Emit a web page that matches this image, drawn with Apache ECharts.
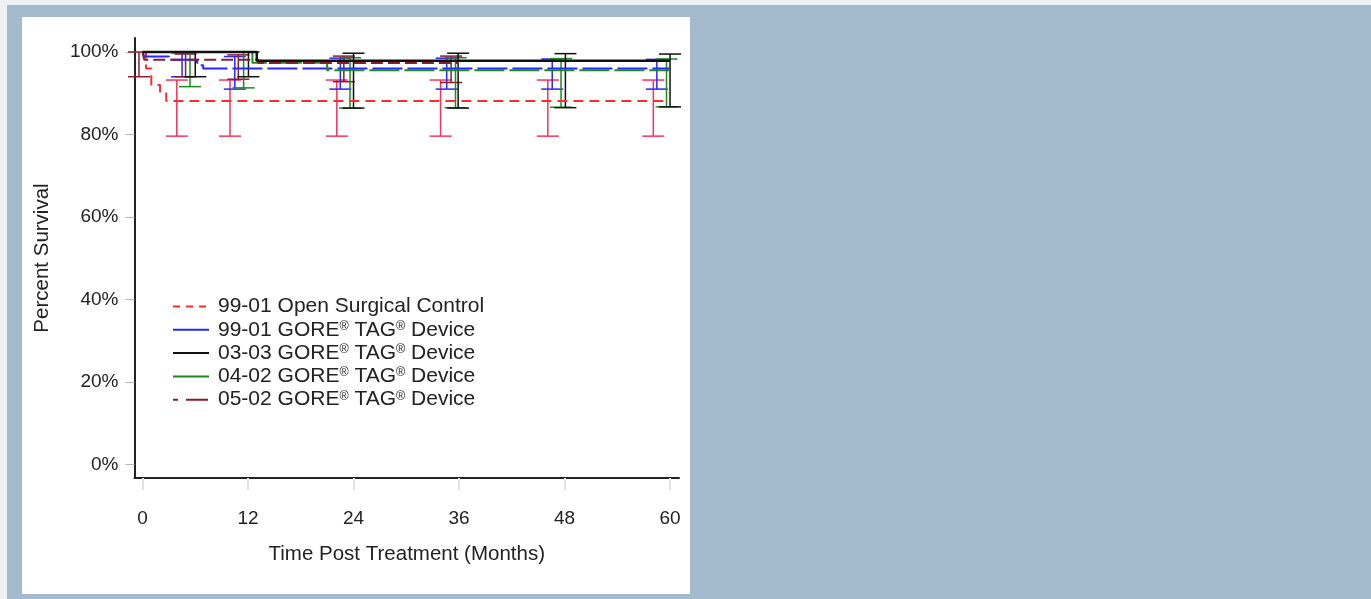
<!DOCTYPE html>
<html><head><meta charset="utf-8">
<script src="https://cdn.jsdelivr.net/npm/echarts@6/dist/echarts.min.js"></script>
<style>html,body{margin:0;padding:0;background:#a4bacd;overflow:hidden}#c{width:1371px;height:599px}</style>
</head><body><div id="c"></div>
<script>
// ---- data ----
const monthTicks = [0, 12, 24, 36, 48, 60];
const percentTicks = [0, 20, 40, 60, 80, 100];
const seriesNames = [
  '99-01 Open Surgical Control',
  '99-01 GORE® TAG® Device',
  '03-03 GORE® TAG® Device',
  '04-02 GORE® TAG® Device',
  '05-02 GORE® TAG® Device'
];
// Kaplan-Meier steps (months, % survival)
const openTimes  = [0, 0.4, 1.0, 2.0, 2.7, 60];
const openSurv   = [100, 96, 92, 90, 88.1, 88.1];
const tag9901Times = [0, 0.2, 3.0, 6.2, 6.5, 6.9, 60];
const tag9901Surv  = [100, 98.9, 98.1, 97.4, 96.8, 96.0, 96.0];
const tag0303Times = [0, 13.0, 60];
const tag0303Surv  = [100, 97.9, 97.9];
const tag0402Times = [0, 12.5, 21.0, 60];
const tag0402Surv  = [100, 97.4, 95.6, 95.6];
const tag0502Times = [0, 0.2, 13.2, 36];
const tag0502Surv  = [100, 98.1, 97.3, 97.3];
// confidence intervals (month drawn, lower %, upper %)
const openCiMonths = [3.9, 9.95, 22.1, 33.9, 46.1, 58.1];
const openCiLow    = [79.6, 79.6, 79.6, 79.6, 79.6, 79.6];
const openCiHigh   = [93.2, 93.2, 93.2, 93.2, 93.2, 93.2];
const tag9901CiMonths = [4.5, 10.5, 22.5, 34.6, 46.6, 58.5];
const tag9901CiLow    = [94.0, 91.0, 91.0, 91.0, 91.0, 91.0];
const tag9901CiHigh   = [99.8, 98.9, 98.5, 98.5, 98.3, 98.2];
const tag0303CiMonths = [6.0, 12.05, 24.0, 35.9, 48.1, 60.0];
const tag0303CiLow    = [94.0, 94.0, 86.4, 86.4, 86.5, 86.7];
const tag0303CiHigh   = [100, 100, 99.7, 99.7, 99.6, 99.5];
const tag0402CiMonths = [5.4, 11.5, 23.6, 35.6, 47.6, 59.6];
const tag0402CiLow    = [91.6, 91.3, 86.4, 86.5, 86.6, 86.7];
const tag0402CiHigh   = [100, 100, 98.6, 98.6, 98.4, 98.3];
const tag0502CiMonths = [-0.4, 4.9, 10.9, 22.9, 35.1];
const tag0502CiLow    = [94.0, 94.0, 93.4, 92.8, 92.6];
const tag0502CiHigh   = [100, 99.5, 99.3, 99.0, 99.0];

// ---- build ----
const zip2 = (a, b) => a.map((v, i) => [v, b[i]]);
const zip3 = (a, b, c) => a.map((v, i) => [v, b[i], c[i]]);

function ciRender(color) {
  return function (params, api) {
    const x = api.value(0), lo = api.value(1), hi = api.value(2);
    const pHi = api.coord([x, hi]), pLo = api.coord([x, lo]);
    const hw = 11, st = { stroke: color, lineWidth: 1.5 };
    return { type: 'group', children: [
      { type: 'line', shape: { x1: pHi[0], y1: pHi[1], x2: pLo[0], y2: pLo[1] }, style: st },
      { type: 'line', shape: { x1: pHi[0] - hw, y1: pHi[1], x2: pHi[0] + hw, y2: pHi[1] }, style: st },
      { type: 'line', shape: { x1: pLo[0] - hw, y1: pLo[1], x2: pLo[0] + hw, y2: pLo[1] }, style: st }
    ]};
  };
}
function ci(name, data, color, z) {
  return { type: 'custom', name: name, data: data, renderItem: ciRender(color),
           encode: { x: 0, y: [1, 2] }, z: z, silent: true };
}
function km(name, data, color, type, width, z) {
  return { type: 'line', name: name, data: data, step: 'end', symbol: 'none', showSymbol: false,
           lineStyle: { color: color, width: width, type: type }, itemStyle: { color: color },
           z: z, silent: true };
}

const C_RED = '#ff2b2b', C_REDCI = '#ff2f5a', C_BLUE = '#2626ff', C_BLACK = '#111111',
      C_GREEN = '#1b8c1b', C_DARK = '#8a1c2c';

const chart = echarts.init(document.getElementById('c'), null, { renderer: 'canvas' });
const font = '"Liberation Sans", Arial, sans-serif';
const hideSym = { opacity: 0 };
chart.setOption({
  backgroundColor: '#a4bacd',
  animation: false,
  graphic: [
    { type: 'rect', shape: { x: 0, y: 0, width: 1371, height: 5 }, style: { fill: '#eef2f5' }, z: -10 },
    { type: 'rect', shape: { x: 0, y: 0, width: 7, height: 599 }, style: { fill: '#eef2f5' }, z: -10 },
    { type: 'rect', shape: { x: 22, y: 17, width: 668, height: 577 }, style: { fill: '#ffffff' }, z: -10 }
  ],
  grid: { left: 134.5, right: 692, top: 38, bottom: 121, containLabel: false },
  xAxis: {
    type: 'value', min: -0.91, max: 61.02,
    name: 'Time Post Treatment (Months)', nameLocation: 'middle', nameGap: 66,
    nameTextStyle: { fontFamily: font, fontSize: 20.5, color: '#222' },
    axisLine: { onZero: false, lineStyle: { color: '#222', width: 2 } },
    axisTick: { show: true, customValues: monthTicks, length: 12, lineStyle: { color: '#e2e2e2', width: 2 } },
    axisLabel: { customValues: monthTicks, margin: 31, fontFamily: font, fontSize: 19, color: '#222' },
    splitLine: { show: false }
  },
  yAxis: {
    type: 'value', min: -3.27, max: 103.39,
    name: 'Percent Survival', nameLocation: 'middle', nameGap: 82, nameRotate: 90,
    nameTextStyle: { fontFamily: font, fontSize: 20.5, color: '#222' },
    axisLine: { onZero: false, lineStyle: { color: '#222', width: 2 } },
    axisTick: { show: true, customValues: percentTicks, length: 9, lineStyle: { color: '#b5b5b5', width: 1 } },
    axisLabel: { customValues: percentTicks, margin: 16, fontFamily: font, fontSize: 19, color: '#222',
                 formatter: v => v + '%' },
    splitLine: { show: false }
  },
  legend: {
    orient: 'vertical', left: 172, top: 296, padding: 0, itemWidth: 36, itemHeight: 14, itemGap: 2.3,
    itemStyle: hideSym,
    data: [
      { name: seriesNames[0], itemStyle: hideSym, lineStyle: { type: [7, 6], width: 2 } },
      { name: seriesNames[1], itemStyle: hideSym, lineStyle: { type: 'solid', width: 2 } },
      { name: seriesNames[2], itemStyle: hideSym, lineStyle: { type: 'solid', width: 2 } },
      { name: seriesNames[3], itemStyle: hideSym, lineStyle: { type: 'solid', width: 2 } },
      { name: seriesNames[4], itemStyle: hideSym, lineStyle: { type: [5, 8, 22, 100], width: 2 } }
    ],
    textStyle: { fontFamily: font, fontSize: 21, color: '#222', lineHeight: 20, padding: [0, 0, 0, 4],
                 rich: { sup: { fontFamily: font, fontSize: 12.5, verticalAlign: 'top', lineHeight: 20, color: '#222' } } },
    formatter: n => n.replace(/®/g, '{sup|®}'),
    selectedMode: false
  },
  series: [
    ci('ci-open', zip3(openCiMonths, openCiLow, openCiHigh), C_REDCI, 2),
    ci('ci-9901', zip3(tag9901CiMonths, tag9901CiLow, tag9901CiHigh), C_BLUE, 2),
    ci('ci-0502', zip3(tag0502CiMonths, tag0502CiLow, tag0502CiHigh), C_DARK, 2),
    ci('ci-0402', zip3(tag0402CiMonths, tag0402CiLow, tag0402CiHigh), C_GREEN, 2),
    ci('ci-0303', zip3(tag0303CiMonths, tag0303CiLow, tag0303CiHigh), C_BLACK, 2),
    km(seriesNames[0], zip2(openTimes, openSurv), C_RED, [10, 6], 2, 3),
    km(seriesNames[1], zip2(tag9901Times, tag9901Surv), C_BLUE, [30, 5], 2, 3),
    km(seriesNames[3], zip2(tag0402Times, tag0402Surv), C_GREEN, [30, 5], 2, 3),
    km(seriesNames[4], zip2(tag0502Times, tag0502Surv), C_DARK, [12, 5], 2, 4),
    km(seriesNames[2], zip2(tag0303Times, tag0303Surv), C_BLACK, 'solid', 2.5, 5)
  ]
});
</script></body></html>
